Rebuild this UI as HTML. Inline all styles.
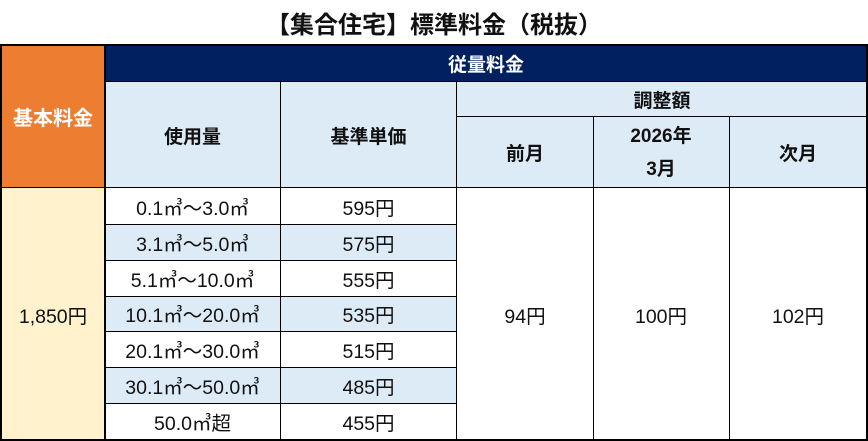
<!DOCTYPE html><html><head><meta charset="utf-8"><style>
body{margin:0;width:868px;height:441px;background:#fff;position:relative;overflow:hidden;font-family:"Liberation Sans","Noto Sans CJK JP",sans-serif}
.c{position:absolute;box-sizing:border-box;display:flex;align-items:center;justify-content:center;text-align:center;font-size:19.5px;color:#111}
.b{font-weight:bold;font-size:19px}
.hl{position:absolute;background:#000}
</style></head><body>
<div class="c b" style="left:0;top:4px;width:868px;height:36px;font-size:24px">【集合住宅】標準料金（税抜）</div>
<div class="c b" style="left:1px;top:45px;width:104px;height:143px;background:#ed7d31;color:#fff;font-size:20px">基本料金</div>
<div class="c" style="left:1px;top:188px;width:104px;height:252px;background:#fff2cc">1,850円</div>
<div class="c b" style="left:105px;top:45px;width:762px;height:37px;background:#002060;color:#fff">従量料金</div>
<div class="c b" style="left:105px;top:82px;width:762px;height:106px;background:#ddebf7"></div>
<div class="c b" style="left:105px;top:82px;width:175px;height:106px">使用量</div>
<div class="c b" style="left:280px;top:82px;width:177px;height:106px">基準単価</div>
<div class="c b" style="left:457px;top:82px;width:410px;height:35px">調整額</div>
<div class="c b" style="left:457px;top:117px;width:136px;height:71px">前月</div>
<div class="c b" style="left:593px;top:117px;width:136px;height:71px;line-height:33px">2026年<br>3月</div>
<div class="c b" style="left:729px;top:117px;width:138px;height:71px">次月</div>
<div class="c" style="left:105px;top:224px;width:352px;height:36px;background:#ddebf7"></div>
<div class="c" style="left:105px;top:296px;width:352px;height:35px;background:#ddebf7"></div>
<div class="c" style="left:105px;top:367px;width:352px;height:36px;background:#ddebf7"></div>
<div class="c" style="left:105px;top:188px;width:175px;height:36px">0.1㎥～3.0㎥</div>
<div class="c" style="left:105px;top:224px;width:175px;height:36px">3.1㎥～5.0㎥</div>
<div class="c" style="left:105px;top:260px;width:175px;height:36px">5.1㎥～10.0㎥</div>
<div class="c" style="left:105px;top:296px;width:175px;height:35px">10.1㎥～20.0㎥</div>
<div class="c" style="left:105px;top:331px;width:175px;height:36px">20.1㎥～30.0㎥</div>
<div class="c" style="left:105px;top:367px;width:175px;height:36px">30.1㎥～50.0㎥</div>
<div class="c" style="left:105px;top:403px;width:175px;height:37px">50.0㎥超</div>
<div class="c" style="left:280px;top:188px;width:177px;height:36px">595円</div>
<div class="c" style="left:280px;top:224px;width:177px;height:36px">575円</div>
<div class="c" style="left:280px;top:260px;width:177px;height:36px">555円</div>
<div class="c" style="left:280px;top:296px;width:177px;height:35px">535円</div>
<div class="c" style="left:280px;top:331px;width:177px;height:36px">515円</div>
<div class="c" style="left:280px;top:367px;width:177px;height:36px">485円</div>
<div class="c" style="left:280px;top:403px;width:177px;height:37px">455円</div>
<div class="c" style="left:457px;top:188px;width:136px;height:252px">94円</div>
<div class="c" style="left:593px;top:188px;width:136px;height:252px">100円</div>
<div class="c" style="left:729px;top:188px;width:138px;height:252px">102円</div>
<div class="hl" style="left:0;top:44px;width:868px;height:2px"></div>
<div class="hl" style="left:0;top:439px;width:868px;height:2px"></div>
<div class="hl" style="left:0;top:44px;width:2px;height:397px"></div>
<div class="hl" style="left:866px;top:44px;width:2px;height:397px"></div>
<div class="hl" style="left:104px;top:44px;width:2px;height:397px"></div>
<div class="hl" style="left:105px;top:81px;width:763px;height:1px"></div>
<div class="hl" style="left:0;top:187px;width:868px;height:1px"></div>
<div class="hl" style="left:457px;top:116px;width:410px;height:1px"></div>
<div class="hl" style="left:280px;top:82px;width:1px;height:358px"></div>
<div class="hl" style="left:456px;top:82px;width:1px;height:358px"></div>
<div class="hl" style="left:593px;top:117px;width:1px;height:323px"></div>
<div class="hl" style="left:729px;top:117px;width:1px;height:323px"></div>
<div class="hl" style="left:105px;top:224px;width:352px;height:1px"></div>
<div class="hl" style="left:105px;top:260px;width:352px;height:1px"></div>
<div class="hl" style="left:105px;top:296px;width:352px;height:1px"></div>
<div class="hl" style="left:105px;top:331px;width:352px;height:1px"></div>
<div class="hl" style="left:105px;top:367px;width:352px;height:1px"></div>
<div class="hl" style="left:105px;top:403px;width:352px;height:1px"></div>
</body></html>
